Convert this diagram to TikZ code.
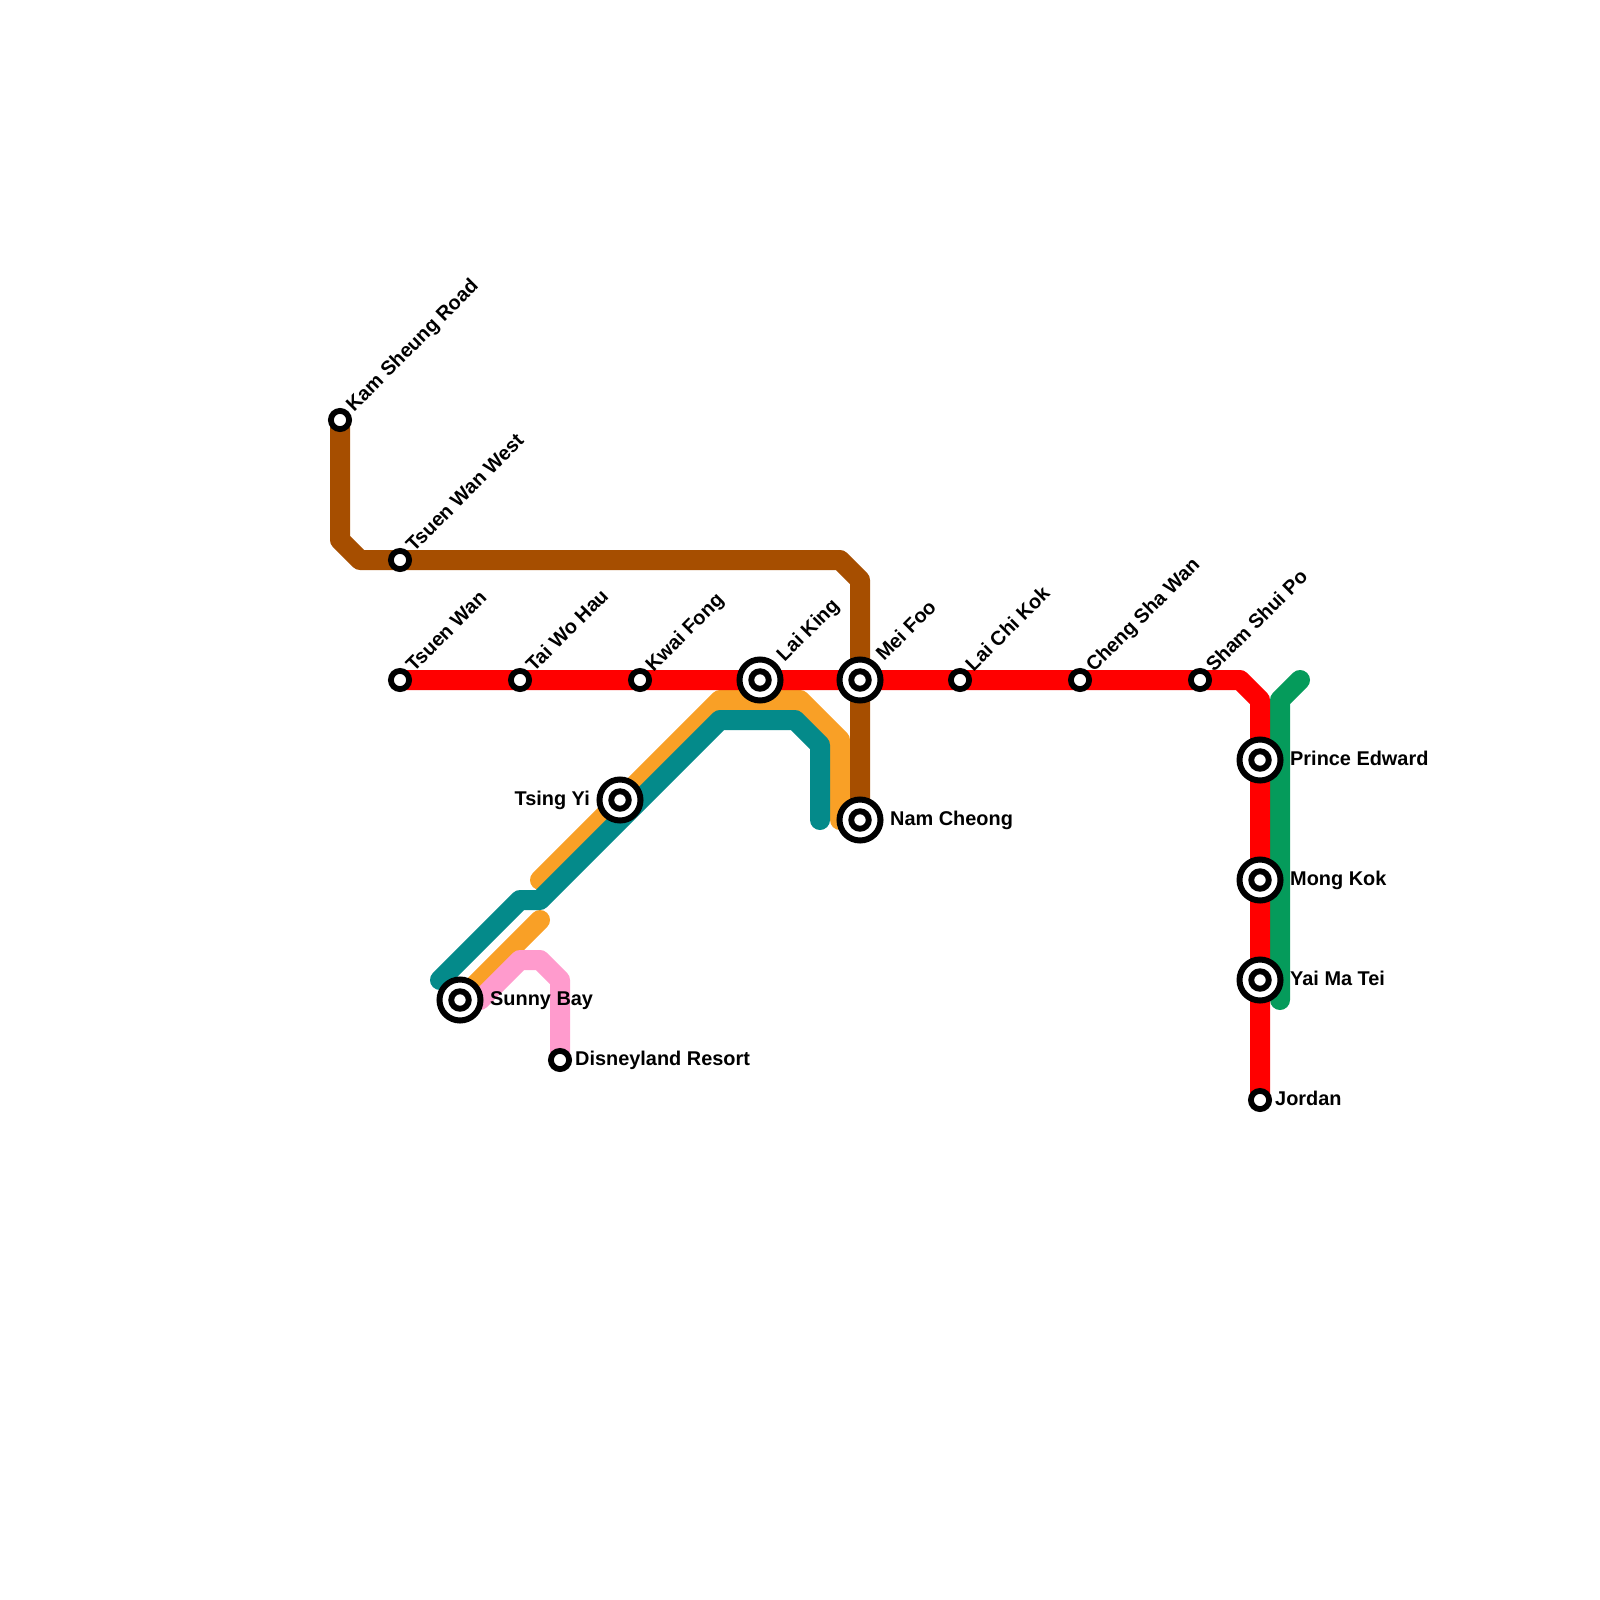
\documentclass[tikz,border=0pt]{standalone}
\usepackage{fontspec}
\setmainfont{Liberation Sans}
\definecolor{lred}{HTML}{FF0000}
\definecolor{lbrown}{HTML}{A64E00}
\definecolor{lorange}{HTML}{F9A026}
\definecolor{lteal}{HTML}{048A8A}
\definecolor{lgreen}{HTML}{059B5B}
\definecolor{lpink}{HTML}{FF9BCD}
\pgfdeclarelayer{lines}
\pgfsetlayers{lines,main}
\tikzset{
  x=1pt,y=-1pt,
  metro/.style={line width=20pt,line cap=round,line join=round},
  bigstation/.style={circle,draw=black,fill=white,line width=6pt,minimum size=41pt,inner sep=0pt,
    path picture={\draw[black,line width=5.9pt,fill=white] (path picture bounding box.center) circle (8.75);}},
  smallstation/.style={circle,draw=black,fill=white,line width=5.8pt,minimum size=18.2pt,inner sep=0pt},
  stationname/.style={inner sep=0pt,font=\bfseries\fontsize{19.9}{22}\selectfont,text=black},
  rightname/.style={stationname,anchor=base west},
  leftname/.style={stationname,anchor=base east},
  slantname/.style={stationname,anchor=base west,rotate=45},
}
\begin{document}
\begin{tikzpicture}
\useasboundingbox (0,0) rectangle (1600,1600);
% stations
\node[smallstation] (kam) at (340,420) {};
\node[smallstation] (tww) at (400,560) {};
\node[smallstation] (tw) at (400,680) {};
\node[smallstation] (twh) at (520,680) {};
\node[smallstation] (kf) at (640,680) {};
\node[bigstation] (lk) at (760,680) {};
\node[bigstation] (mf) at (860,680) {};
\node[smallstation] (lck) at (960,680) {};
\node[smallstation] (csw) at (1080,680) {};
\node[smallstation] (ssp) at (1200,680) {};
\node[bigstation] (pe) at (1260,760) {};
\node[bigstation] (mk) at (1260,880) {};
\node[bigstation] (ymt) at (1260,980) {};
\node[smallstation] (jo) at (1260,1100) {};
\node[bigstation] (nc) at (860,820) {};
\node[bigstation] (ty) at (620,800) {};
\node[bigstation] (sb) at (460,1000) {};
\node[smallstation] (dr) at (560,1060) {};
% bends and free ends
\coordinate (b1) at (340,540);
\coordinate (b2) at (360,560);
\coordinate (b3) at (840,560);
\coordinate (b4) at (860,580);
\coordinate (r1) at (1240,680);
\coordinate (r2) at (1260,700);
\coordinate (g1) at (1300,680);
\coordinate (g2) at (1280,700);
\coordinate (g3) at (1280,1000);
\coordinate (o1) at (540,880);
\coordinate (o2) at (720,700);
\coordinate (o3) at (800,700);
\coordinate (o4) at (840,740);
\coordinate (o5) at (840,820);
\coordinate (o6) at (540,920);
\coordinate (t1) at (820,820);
\coordinate (t2) at (820,745);
\coordinate (t3) at (795,720);
\coordinate (t4) at (720,720);
\coordinate (t5) at (540,900);
\coordinate (t6) at (520,900);
\coordinate (t7) at (440,980);
\coordinate (p1) at (480,1000);
\coordinate (p2) at (520,960);
\coordinate (p3) at (540,960);
\coordinate (p4) at (560,980);
% lines
\begin{pgfonlayer}{lines}
\draw[metro,lorange] (o1) -- (o2) -- (o3) -- (o4) -- (o5);
\draw[metro,lorange] (o6) -- (sb.center);
\draw[metro,lbrown] (kam.center) -- (b1) -- (b2) -- (tww.center) -- (b3) -- (b4) -- (mf.center) -- (nc.center);
\draw[metro,lteal] (t1) -- (t2) -- (t3) -- (t4) -- (t5) -- (t6) -- (t7);
\draw[metro,lpink] (p1) -- (p2) -- (p3) -- (p4) -- (dr.center);
\draw[metro,lgreen] (g1) -- (g2) -- (g3);
\draw[metro,lred] (tw.center) -- (twh.center) -- (kf.center) -- (lk.center) -- (mf.center) -- (lck.center) -- (csw.center) -- (ssp.center) -- (r1) -- (r2) -- (pe.center) -- (mk.center) -- (ymt.center) -- (jo.center);
\end{pgfonlayer}
% names
\node[slantname] (nkam) at (354,412.5) {Kam Sheung Road};
\node[slantname] (ntww) at (414,553) {Tsuen Wan West};
\node[slantname] (ntw) at (414,673) {Tsuen Wan};
\node[slantname] (ntwh) at (534,673) {Tai Wo Hau};
\node[slantname] (nkf) at (653.5,672.5) {Kwai Fong};
\node[slantname] (nlk) at (784.5,662.5) {Lai King};
\node[slantname] (nmf) at (884,662) {Mei Foo};
\node[slantname] (nlck) at (973.5,672.5) {Lai Chi Kok};
\node[slantname] (ncsw) at (1094,673) {Cheng Sha Wan};
\node[slantname] (nssp) at (1214,673) {Sham Shui Po};
\node[rightname] (npe) at (1290,765) {Prince Edward};
\node[rightname] (nmk) at (1290,885) {Mong Kok};
\node[rightname] (nymt) at (1290,985) {Yai Ma Tei};
\node[rightname] (njo) at (1275,1105) {Jordan};
\node[rightname] (nnc) at (890,825) {Nam Cheong};
\node[leftname] (nty) at (590,805) {Tsing Yi};
\node[rightname] (nsb) at (490,1005) {Sunny Bay};
\node[rightname] (ndr) at (575,1065) {Disneyland Resort};
\end{tikzpicture}
\end{document}
